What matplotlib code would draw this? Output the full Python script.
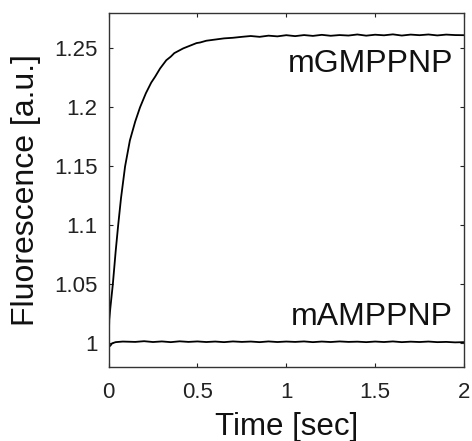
import matplotlib.pyplot as plt
from matplotlib.ticker import FuncFormatter

plt.rcParams['font.family'] = ['Liberation Sans', 'DejaVu Sans']

# mGMPPNP trace
t_gmp = [0, 0.004, 0.01, 0.024, 0.04, 0.054, 0.07, 0.093, 0.12, 0.15, 0.177,
         0.21, 0.24, 0.262, 0.29, 0.325, 0.35, 0.37, 0.395, 0.42, 0.445, 0.47,
         0.495, 0.515, 0.55, 0.6, 0.65, 0.7, 0.75, 0.8, 0.85, 0.9, 0.95, 1.0,
         1.05, 1.1, 1.15, 1.2, 1.25, 1.3, 1.35, 1.4, 1.45, 1.5, 1.55, 1.6,
         1.65, 1.7, 1.75, 1.8, 1.85, 1.9, 1.95, 2.0]
f_gmp = [0.997, 1.02, 1.03, 1.05, 1.078, 1.10, 1.123, 1.15, 1.172, 1.188, 1.20,
         1.212, 1.221, 1.226, 1.233, 1.240, 1.243, 1.246, 1.248, 1.250, 1.2515, 1.253,
         1.2545, 1.255, 1.2565, 1.2575, 1.2585, 1.259, 1.2598, 1.2605, 1.2598, 1.2608, 1.2602, 1.2612,
         1.2604, 1.2613, 1.2606, 1.2615, 1.2607, 1.2613, 1.2609, 1.2618, 1.2608, 1.2616, 1.2611, 1.2619,
         1.2609, 1.2617, 1.2612, 1.2618, 1.2610, 1.2617, 1.2613, 1.2612]

# mAMPPNP trace
t_amp = [0, 0.01, 0.02, 0.04, 0.08, 0.15, 0.2, 0.25, 0.3, 0.35, 0.4, 0.45,
         0.5, 0.55, 0.6, 0.65, 0.7, 0.75, 0.8, 0.85, 0.9, 0.95, 1.0, 1.05,
         1.1, 1.15, 1.2, 1.25, 1.3, 1.35, 1.4, 1.45, 1.5, 1.55, 1.6, 1.65,
         1.7, 1.75, 1.8, 1.85, 1.9, 1.95, 2.0]
f_amp = [0.997, 0.998, 1.0, 1.001, 1.0015, 1.0012, 1.0018, 1.0011, 1.0016, 1.0010, 1.0017, 1.0012,
         1.0016, 1.0011, 1.0015, 1.0010, 1.0016, 1.0012, 1.0015, 1.0010, 1.0016, 1.0011, 1.0015, 1.0012,
         1.0016, 1.0010, 1.0015, 1.0011, 1.0016, 1.0012, 1.0014, 1.0010, 1.0015, 1.0011, 1.0016, 1.0010,
         1.0014, 1.0011, 1.0015, 1.0010, 1.0012, 1.0008, 1.0010]

xticks = [0, 0.5, 1, 1.5, 2]
yticks = [1, 1.05, 1.1, 1.15, 1.2, 1.25]

fig = plt.figure(figsize=(4.72, 4.41), dpi=100)
ax = fig.add_axes([0.23, 0.168, 0.753, 0.8025])

ax.plot(t_gmp, f_gmp, color='black', lw=1.3)
ax.plot(t_amp, f_amp, color='black', lw=1.3)

ax.text(1.938, 1.230, 'mGMPPNP', ha='right', va='baseline', fontsize=23, color='#111111')
ax.text(1.938, 1.0153, 'mAMPPNP', ha='right', va='baseline', fontsize=23, color='#111111')

ax.set_xlim(0, 2)
ax.set_ylim(0.98, 1.28)
ax.set_xticks(xticks)
ax.set_yticks(yticks)
fmt = FuncFormatter(lambda v, p: '%g' % v)
ax.xaxis.set_major_formatter(fmt)
ax.yaxis.set_major_formatter(fmt)
ax.tick_params(direction='in', length=3, width=0.8, top=True, right=True,
               labelsize=16, pad=8, colors='#222222')
ax.tick_params(axis='x', pad=11)
for s in ax.spines.values():
    s.set_linewidth(1.0)
    s.set_color('#333333')

ax.set_xlabel('Time [sec]', fontsize=22.5, labelpad=6, color='#111111')
ax.set_ylabel('Fluorescence [a.u.]', fontsize=23, labelpad=9, color='#111111')

fig.savefig('out.png', dpi=100)
